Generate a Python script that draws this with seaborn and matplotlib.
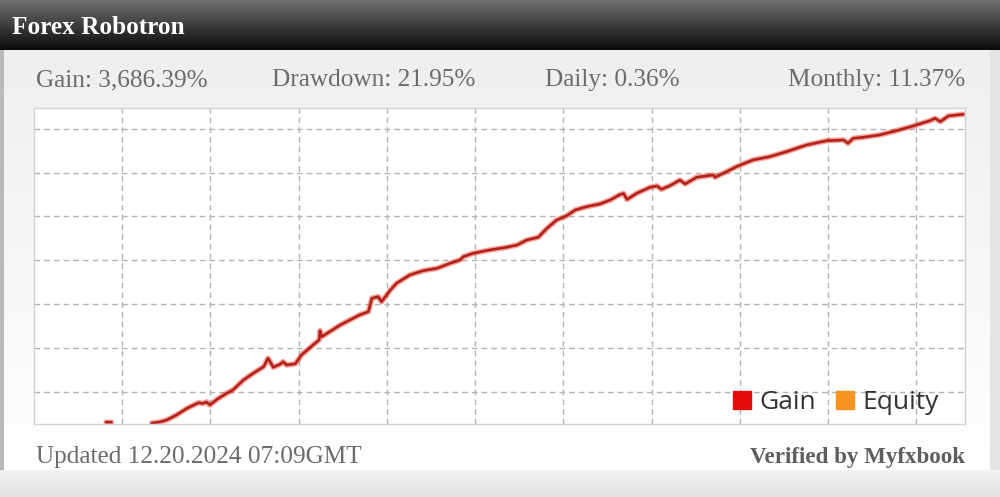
import numpy as np
import pandas as pd
import matplotlib
matplotlib.use("Agg")
import matplotlib.pyplot as plt
from matplotlib.lines import Line2D
import seaborn as sns

# ---------------- data ----------------
title = "Forex Robotron"
stats = ["Gain: 3,686.39%", "Drawdown: 21.95%", "Daily: 0.36%", "Monthly: 11.37%"]
footer_left = "Updated 12.20.2024 07:09GMT"
footer_right = "Verified by Myfxbook"
legend_labels = ["Gain", "Equity"]
legend_colors = ["#e30b0b", "#f7931e"]

day = [134, 143, 151, 162, 174, 187, 192, 196, 200, 208, 219, 226, 238, 249, 261,
       266, 272, 280, 283, 287, 297, 304, 317, 324, 325, 327, 336, 348, 359, 370,
       380, 384, 391, 395, 405, 412, 427, 442, 458, 473, 484, 488, 499, 518, 537,
       549, 560, 573, 583, 594, 605, 615, 628, 643, 655, 666, 670, 674, 685, 700,
       708, 713, 723, 734, 740, 753, 772, 774, 787, 800, 817, 836, 855, 878, 901,
       920, 925, 931, 942, 961, 980, 999, 1018, 1024, 1030, 1039, 1056]
gain = [0, 12, 36, 96, 176, 242, 233, 251, 215, 283, 355, 394, 513, 593, 672,
        773, 665, 704, 732, 693, 707, 812, 931, 991, 1102, 1030, 1090, 1170, 1230, 1290,
        1329, 1489, 1508, 1448, 1588, 1668, 1767, 1818, 1847, 1907, 1946, 1986, 2026, 2066, 2098,
        2125, 2185, 2217, 2325, 2424, 2472, 2543, 2583, 2615, 2663, 2728, 2740, 2669, 2743, 2814,
        2830, 2790, 2835, 2901, 2854, 2934, 2961, 2934, 3001, 3069, 3140, 3180, 3239, 3319, 3371,
        3379, 3340, 3399, 3411, 3439, 3490, 3546, 3609, 3638, 3598, 3666, 3686]
blip_day = [82, 88]
blip_gain = [10, 9]

df = pd.DataFrame({"day": day, "gain": gain})
df_blip = pd.DataFrame({"day": blip_day, "gain": blip_gain})

# ---------------- figure ----------------
sns.set_theme(style="white")
serif = ["Liberation Serif", "DejaVu Serif"]
plt.rcParams["font.family"] = serif

W, H = 1000, 497
fig = plt.figure(figsize=(W / 100, H / 100), dpi=100)

# background panel
bg = fig.add_axes([0, 0, 1, 1])
bg.set_xlim(0, W)
bg.set_ylim(H, 0)
bg.axis("off")
body = np.linspace(0.935, 1.0, 256)[:, None]
bg.imshow(np.dstack([body] * 3), extent=[0, W, 470, 50], aspect="auto", zorder=0)
bot = np.linspace(0.95, 0.89, 64)[:, None]
bg.imshow(np.dstack([bot] * 3), extent=[0, W, H, 470], aspect="auto", zorder=0)
hdr = np.linspace(0.44, 0.04, 128)[:, None]
bg.imshow(np.dstack([hdr] * 3), extent=[0, W, 50, 0], aspect="auto", zorder=1)
bg.add_patch(plt.Rectangle((0, 50), 4, 420, color="#b9b9b9", zorder=2, lw=0))
bg.add_patch(plt.Rectangle((990, 50), 10, 420, color="#e4e4e4", zorder=2, lw=0))

bg.text(12, 27, title, color="white", fontsize=18.2, fontweight="bold",
        ha="left", va="center", family=serif)
stat_x = [36, 374, 612, 965]
stat_ha = ["left", "center", "center", "right"]
for s, x, ha in zip(stats, stat_x, stat_ha):
    bg.text(x, 80, s, color="#6b6b6b", fontsize=18.2, ha=ha, va="center", family=serif)
bg.text(36, 457, footer_left, color="#6b6b6b", fontsize=18.2, ha="left", va="center", family=serif)
bg.text(965, 457, footer_right, color="#5e5e5e", fontsize=16.6, fontweight="bold",
        ha="right", va="center", family=serif)

# plot area
ax = fig.add_axes([34 / W, 1 - 423.5 / H, 931 / W, 315.5 / H])
ax.set_facecolor("white")
ax.set_xlim(0, 1058)
ax.set_ylim(-6, 3761)
ax.set_xticks(np.arange(100, 1058, 100.3))
ax.set_yticks(np.arange(370, 3700, 524))
ax.tick_params(length=0, labelbottom=False, labelleft=False)
ax.grid(True, color="#b3b3b3", linestyle=(0, (4, 3)), linewidth=1.0)
for sp in ax.spines.values():
    sp.set_color("#d2d2d2")
    sp.set_linewidth(1.0)

for d in (df, df_blip):
    sns.lineplot(data=d, x="day", y="gain", ax=ax, color="#f0321e", lw=4.0,
                 alpha=0.45, legend=False, sort=False)
    sns.lineplot(data=d, x="day", y="gain", ax=ax, color="#b0221a", lw=1.9,
                 legend=False, sort=False)
ax.set_xlabel("")
ax.set_ylabel("")

handles = [Line2D([], [], marker="s", linestyle="none", markersize=12.5,
                  markerfacecolor=c, markeredgecolor=c) for c in legend_colors]
leg = ax.legend(handles, legend_labels, loc="center right", bbox_to_anchor=(0.986, 0.066),
                ncol=2, frameon=False, handlelength=0.75, handletextpad=0.3,
                columnspacing=0.7, borderpad=0,
                prop={"family": ["Open Sans", "DejaVu Sans"], "size": 19})
for t in leg.get_texts():
    t.set_color("#333333")

fig.savefig("out.png", dpi=100)
